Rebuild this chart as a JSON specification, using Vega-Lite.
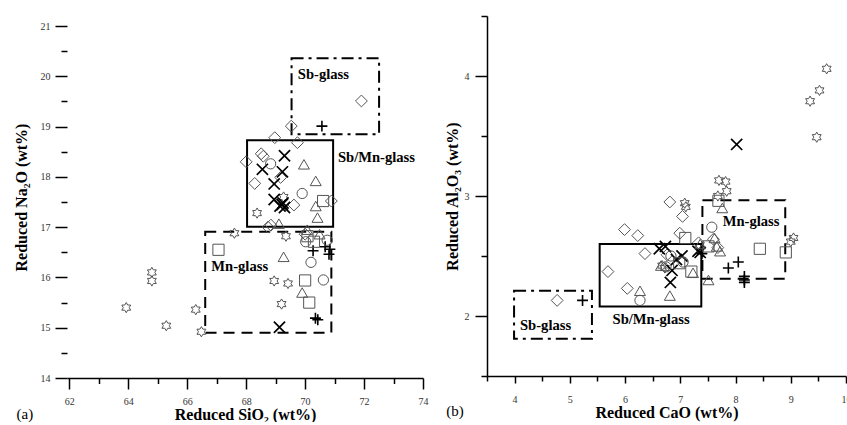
{
  "$schema": "https://vega.github.io/schema/vega-lite/v6.json",
  "padding": {"left": 13, "top": 15, "right": 0, "bottom": 0},
  "background": "white",
  "config": {
    "view": {"stroke": null},
    "concat": {"spacing": 16},
    "axis": {
      "grid": false,
      "domainColor": "black",
      "domainWidth": 1.5,
      "tickColor": "black",
      "tickWidth": 1.5,
      "labelFont": "Liberation Serif",
      "labelFontSize": 10,
      "labelColor": "#333",
      "labelFlush": false,
      "titleFont": "Liberation Serif",
      "titleFontSize": 16,
      "titleFontWeight": "bold",
      "titleColor": "black"
    }
  },
  "datasets": {
    "ptsA": [
      {"x": 71.91, "y": 19.51, "t": "d"}, {"x": 69.53, "y": 19.01, "t": "d"}, {"x": 68.97, "y": 18.78, "t": "d"},
      {"x": 69.74, "y": 18.68, "t": "d"}, {"x": 68.0, "y": 18.3, "t": "d"}, {"x": 68.51, "y": 18.46, "t": "d"},
      {"x": 68.58, "y": 18.41, "t": "d"}, {"x": 68.29, "y": 17.87, "t": "d"}, {"x": 69.17, "y": 17.99, "t": "d"},
      {"x": 69.62, "y": 17.44, "t": "d"}, {"x": 70.89, "y": 17.52, "t": "d"}, {"x": 68.74, "y": 17.0, "t": "d"},
      {"x": 68.84, "y": 17.04, "t": "d"}, {"x": 70.0, "y": 16.86, "t": "d"},
      {"x": 63.93, "y": 15.4, "t": "s"}, {"x": 64.8, "y": 16.1, "t": "s"}, {"x": 64.8, "y": 15.93, "t": "s"},
      {"x": 65.29, "y": 15.04, "t": "s"}, {"x": 66.29, "y": 15.36, "t": "s"}, {"x": 66.48, "y": 14.92, "t": "s"},
      {"x": 67.6, "y": 16.88, "t": "s"}, {"x": 68.37, "y": 17.28, "t": "s"}, {"x": 68.95, "y": 15.93, "t": "s"},
      {"x": 69.42, "y": 15.88, "t": "s"}, {"x": 69.2, "y": 15.47, "t": "s"}, {"x": 69.35, "y": 16.82, "t": "s"},
      {"x": 69.27, "y": 17.6, "t": "s"},
      {"x": 69.3, "y": 18.42, "t": "x"}, {"x": 68.55, "y": 18.15, "t": "x"}, {"x": 69.23, "y": 18.1, "t": "x"},
      {"x": 68.95, "y": 17.86, "t": "x"}, {"x": 68.95, "y": 17.55, "t": "x"}, {"x": 69.25, "y": 17.48, "t": "x"},
      {"x": 69.15, "y": 17.42, "t": "x"}, {"x": 69.3, "y": 17.39, "t": "x"}, {"x": 69.22, "y": 17.45, "t": "x"},
      {"x": 69.13, "y": 15.01, "t": "x"},
      {"x": 70.57, "y": 19.01, "t": "p"}, {"x": 70.27, "y": 16.53, "t": "p"}, {"x": 70.68, "y": 16.61, "t": "p"},
      {"x": 70.84, "y": 16.56, "t": "p"}, {"x": 70.81, "y": 16.46, "t": "p"}, {"x": 70.35, "y": 15.19, "t": "p"},
      {"x": 70.43, "y": 15.16, "t": "p"},
      {"x": 68.83, "y": 18.26, "t": "c"}, {"x": 69.9, "y": 17.67, "t": "c"}, {"x": 70.2, "y": 16.3, "t": "c"},
      {"x": 70.62, "y": 15.95, "t": "c"}, {"x": 70.02, "y": 16.71, "t": "c"}, {"x": 70.75, "y": 16.74, "t": "c"},
      {"x": 67.06, "y": 16.55, "t": "q"}, {"x": 70.0, "y": 15.94, "t": "q"}, {"x": 70.14, "y": 15.5, "t": "q"},
      {"x": 70.61, "y": 17.52, "t": "q"}, {"x": 70.3, "y": 16.71, "t": "q"}, {"x": 70.08, "y": 16.82, "t": "q"},
      {"x": 69.96, "y": 18.25, "t": "t"}, {"x": 70.36, "y": 17.92, "t": "t"}, {"x": 70.36, "y": 17.42, "t": "t"},
      {"x": 70.42, "y": 17.19, "t": "t"}, {"x": 69.11, "y": 17.07, "t": "t"}, {"x": 69.27, "y": 16.41, "t": "t"},
      {"x": 69.9, "y": 15.7, "t": "t"}, {"x": 70.07, "y": 16.95, "t": "t"}, {"x": 70.49, "y": 16.86, "t": "t"}
    ],
    "ptsB": [
      {"x": 9.65, "y": 4.06, "t": "s"}, {"x": 9.52, "y": 3.88, "t": "s"}, {"x": 9.35, "y": 3.79, "t": "s"},
      {"x": 9.47, "y": 3.49, "t": "s"}, {"x": 7.7, "y": 3.13, "t": "s"}, {"x": 7.82, "y": 3.12, "t": "s"},
      {"x": 7.84, "y": 3.04, "t": "s"}, {"x": 7.68, "y": 3.0, "t": "s"}, {"x": 7.08, "y": 2.94, "t": "s"},
      {"x": 7.1, "y": 2.91, "t": "s"}, {"x": 9.05, "y": 2.65, "t": "s"}, {"x": 9.0, "y": 2.62, "t": "s"},
      {"x": 6.67, "y": 2.42, "t": "s"}, {"x": 6.72, "y": 2.4, "t": "s"},
      {"x": 4.77, "y": 2.13, "t": "d"}, {"x": 5.69, "y": 2.37, "t": "d"}, {"x": 6.04, "y": 2.23, "t": "d"},
      {"x": 5.99, "y": 2.72, "t": "d"}, {"x": 6.23, "y": 2.67, "t": "d"}, {"x": 6.36, "y": 2.52, "t": "d"},
      {"x": 6.81, "y": 2.95, "t": "d"}, {"x": 7.04, "y": 2.83, "t": "d"}, {"x": 6.99, "y": 2.69, "t": "d"},
      {"x": 6.76, "y": 2.51, "t": "d"}, {"x": 7.33, "y": 2.61, "t": "d"}, {"x": 7.6, "y": 2.64, "t": "d"},
      {"x": 7.68, "y": 2.57, "t": "d"},
      {"x": 8.02, "y": 3.43, "t": "x"}, {"x": 6.73, "y": 2.58, "t": "x"}, {"x": 6.82, "y": 2.28, "t": "x"},
      {"x": 6.85, "y": 2.38, "t": "x"}, {"x": 6.93, "y": 2.47, "t": "x"}, {"x": 7.03, "y": 2.5, "t": "x"},
      {"x": 7.32, "y": 2.54, "t": "x"}, {"x": 7.36, "y": 2.53, "t": "x"}, {"x": 6.62, "y": 2.56, "t": "x"},
      {"x": 5.23, "y": 2.13, "t": "p"}, {"x": 7.87, "y": 2.4, "t": "p"}, {"x": 8.05, "y": 2.45, "t": "p"},
      {"x": 8.16, "y": 2.33, "t": "p"}, {"x": 8.16, "y": 2.3, "t": "p"}, {"x": 8.16, "y": 2.28, "t": "p"},
      {"x": 7.39, "y": 2.52, "t": "p"},
      {"x": 6.27, "y": 2.13, "t": "c"}, {"x": 7.57, "y": 2.74, "t": "c"}, {"x": 6.83, "y": 2.5, "t": "c"},
      {"x": 6.74, "y": 2.41, "t": "c"}, {"x": 7.05, "y": 2.45, "t": "c"},
      {"x": 7.69, "y": 2.96, "t": "q"}, {"x": 8.44, "y": 2.56, "t": "q"}, {"x": 8.91, "y": 2.53, "t": "q"},
      {"x": 7.51, "y": 2.58, "t": "q"}, {"x": 7.2, "y": 2.37, "t": "q"}, {"x": 7.09, "y": 2.65, "t": "q"},
      {"x": 6.98, "y": 2.44, "t": "q"},
      {"x": 6.27, "y": 2.21, "t": "t"}, {"x": 6.81, "y": 2.17, "t": "t"}, {"x": 7.76, "y": 2.9, "t": "t"},
      {"x": 7.51, "y": 2.3, "t": "t"}, {"x": 7.23, "y": 2.36, "t": "t"}, {"x": 7.72, "y": 2.54, "t": "t"},
      {"x": 7.66, "y": 2.58, "t": "t"}, {"x": 6.65, "y": 2.42, "t": "t"}, {"x": 7.62, "y": 2.65, "t": "t"},
      {"x": 7.36, "y": 2.6, "t": "t"}
    ],
    "boxesA": [
      {"x": 69.54, "x2": 72.51, "y": 18.85, "y2": 20.36, "k": "dashdot"},
      {"x": 68.03, "x2": 70.95, "y": 17.01, "y2": 18.73, "k": "solid"},
      {"x": 66.61, "x2": 70.89, "y": 14.9, "y2": 16.91, "k": "dashed"}
    ],
    "boxesB": [
      {"x": 3.99, "x2": 5.4, "y": 1.81, "y2": 2.21, "k": "dashdot"},
      {"x": 5.54, "x2": 7.38, "y": 2.08, "y2": 2.6, "k": "solid"},
      {"x": 7.4, "x2": 8.9, "y": 2.31, "y2": 2.965, "k": "dashed"}
    ],
    "labelsA": [
      {"x": 70.62, "y": 20.03, "label": "Sb-glass"},
      {"x": 72.42, "y": 18.37, "label": "Sb/Mn-glass"},
      {"x": 67.78, "y": 16.2, "label": "Mn-glass"}
    ],
    "labelsB": [
      {"x": 4.56, "y": 1.92, "label": "Sb-glass"},
      {"x": 6.47, "y": 1.97, "label": "Sb/Mn-glass"},
      {"x": 8.28, "y": 2.78, "label": "Mn-glass"}
    ],
    "tagA": [{"x": 60.49, "y": 13.29, "label": "(a)"}],
    "tagB": [{"x": 2.92, "y": 1.207, "label": "(b)"}]
  },
  "hconcat": [
    {
      "width": 356,
      "height": 362,
      "encoding": {
        "x": {
          "field": "x", "type": "quantitative",
          "scale": {"domain": [61.92, 74], "nice": false, "zero": false},
          "axis": {
            "title": "Reduced SiO₂ (wt%)",
            "values": [62, 63, 64, 65, 66, 67, 68, 69, 70, 71, 72, 73, 74],
            "labelExpr": "datum.value % 2 === 0 ? '' + datum.value : ''",
            "tickSize": {"condition": {"test": "datum.value % 2 === 0", "value": 11}, "value": 5.5},
            "labelPadding": 7,
            "titlePadding": 0
          }
        },
        "y": {
          "field": "y", "type": "quantitative",
          "scale": {"domain": [14, 21.2], "nice": false, "zero": false},
          "axis": {
            "title": "Reduced Na₂O (wt%)",
            "domain": false,
            "values": [14, 14.5, 15, 15.5, 16, 16.5, 17, 17.5, 18, 18.5, 19, 19.5, 20, 20.5, 21],
            "labelExpr": "datum.value % 1 === 0 ? '' + datum.value : ''",
            "tickSize": {"condition": {"test": "datum.value % 1 === 0", "value": 12}, "value": 6},
            "labelPadding": 5,
            "titlePadding": 11
          }
        }
      },
      "layer": [
        {
          "data": {"values": [{}]},
          "mark": {"type": "rule", "color": "black", "strokeWidth": 1.5},
          "encoding": {"x": {"datum": 61.92}, "y": {"datum": 14}, "y2": {"datum": 21}}
        },
        {
          "data": {"name": "boxesA"},
          "transform": [{"filter": "datum.k === 'solid'"}],
          "mark": {"type": "rect", "filled": false, "color": "black", "strokeWidth": 2},
          "encoding": {"x2": {"field": "x2"}, "y2": {"field": "y2"}}
        },
        {
          "data": {"name": "boxesA"},
          "transform": [{"filter": "datum.k === 'dashed'"}],
          "mark": {"type": "rect", "filled": false, "color": "black", "strokeWidth": 2, "strokeDash": [11, 7]},
          "encoding": {"x2": {"field": "x2"}, "y2": {"field": "y2"}}
        },
        {
          "data": {"name": "boxesA"},
          "transform": [{"filter": "datum.k === 'dashdot'"}],
          "mark": {"type": "rect", "filled": false, "color": "black", "strokeWidth": 2, "strokeDash": [12, 5, 3, 5]},
          "encoding": {"x2": {"field": "x2"}, "y2": {"field": "y2"}}
        },
        {
          "data": {"name": "ptsA"},
          "mark": {"type": "point", "filled": false, "opacity": 1},
          "encoding": {
            "shape": {
              "field": "t", "type": "nominal", "legend": null,
              "scale": {
                "domain": ["d", "s", "x", "p", "c", "q", "t"],
                "range": ["diamond", "M0,-1L0.289,-0.5L0.866,-0.5L0.577,0L0.866,0.5L0.289,0.5L0,1L-0.289,0.5L-0.866,0.5L-0.577,0L-0.866,-0.5L-0.289,-0.5Z", "M-1,-1L1,1M-1,1L1,-1", "M-1,0L1,0M0,-1L0,1", "circle", "square", "triangle-up"]
              }
            },
            "color": {
              "field": "t", "type": "nominal", "legend": null,
              "scale": {"domain": ["d", "s", "x", "p", "c", "q", "t"], "range": ["#555", "#555", "#000", "#000", "#555", "#555", "#555"]}
            },
            "size": {
              "field": "t", "type": "ordinal", "legend": null,
              "scale": {"type": "ordinal", "domain": ["d", "s", "x", "p", "c", "q", "t"], "range": [140, 105, 125, 120, 105, 125, 120]}
            },
            "strokeWidth": {
              "field": "t", "type": "ordinal", "legend": null,
              "scale": {"type": "ordinal", "domain": ["d", "s", "x", "p", "c", "q", "t"], "range": [1, 1, 1.7, 1.6, 1, 1, 1]}
            }
          }
        },
        {
          "data": {"name": "labelsA"},
          "mark": {"type": "text", "font": "Liberation Serif", "fontWeight": "bold", "fontSize": 14.6, "color": "black", "align": "center", "baseline": "middle"},
          "encoding": {"text": {"field": "label"}}
        },
        {
          "data": {"name": "tagA"},
          "mark": {"type": "text", "font": "Liberation Serif", "fontSize": 15, "color": "black", "align": "center", "baseline": "middle"},
          "encoding": {"text": {"field": "label"}}
        }
      ]
    },
    {
      "width": 359,
      "height": 360,
      "encoding": {
        "x": {
          "field": "x", "type": "quantitative",
          "scale": {"domain": [3.5, 10], "nice": false, "zero": false},
          "axis": {
            "title": "Reduced CaO (wt%)",
            "values": [3.5, 4, 4.5, 5, 5.5, 6, 6.5, 7, 7.5, 8, 8.5, 9, 9.5, 10],
            "labelExpr": "datum.value % 1 === 0 ? '' + datum.value : ''",
            "tickSize": {"condition": {"test": "datum.value % 1 === 0", "value": 7}, "value": 5},
            "labelPadding": 11,
            "titlePadding": 0
          }
        },
        "y": {
          "field": "y", "type": "quantitative",
          "scale": {"domain": [1.5, 4.5], "nice": false, "zero": false},
          "axis": {
            "title": "Reduced Al₂O₃ (wt%)",
            "values": [1.5, 2, 2.5, 3, 3.5, 4, 4.5],
            "labelExpr": "datum.value % 1 === 0 ? '' + datum.value : ''",
            "tickSize": {"condition": {"test": "datum.value % 1 === 0", "value": 12}, "value": 6},
            "labelPadding": 6,
            "titlePadding": 4
          }
        }
      },
      "layer": [
        {
          "data": {"name": "boxesB"},
          "transform": [{"filter": "datum.k === 'solid'"}],
          "mark": {"type": "rect", "filled": false, "color": "black", "strokeWidth": 2},
          "encoding": {"x2": {"field": "x2"}, "y2": {"field": "y2"}}
        },
        {
          "data": {"name": "boxesB"},
          "transform": [{"filter": "datum.k === 'dashed'"}],
          "mark": {"type": "rect", "filled": false, "color": "black", "strokeWidth": 2, "strokeDash": [11, 7]},
          "encoding": {"x2": {"field": "x2"}, "y2": {"field": "y2"}}
        },
        {
          "data": {"name": "boxesB"},
          "transform": [{"filter": "datum.k === 'dashdot'"}],
          "mark": {"type": "rect", "filled": false, "color": "black", "strokeWidth": 2, "strokeDash": [12, 5, 3, 5]},
          "encoding": {"x2": {"field": "x2"}, "y2": {"field": "y2"}}
        },
        {
          "data": {"name": "ptsB"},
          "mark": {"type": "point", "filled": false, "opacity": 1},
          "encoding": {
            "shape": {
              "field": "t", "type": "nominal", "legend": null,
              "scale": {
                "domain": ["d", "s", "x", "p", "c", "q", "t"],
                "range": ["diamond", "M0,-1L0.289,-0.5L0.866,-0.5L0.577,0L0.866,0.5L0.289,0.5L0,1L-0.289,0.5L-0.866,0.5L-0.577,0L-0.866,-0.5L-0.289,-0.5Z", "M-1,-1L1,1M-1,1L1,-1", "M-1,0L1,0M0,-1L0,1", "circle", "square", "triangle-up"]
              }
            },
            "color": {
              "field": "t", "type": "nominal", "legend": null,
              "scale": {"domain": ["d", "s", "x", "p", "c", "q", "t"], "range": ["#555", "#555", "#000", "#000", "#555", "#555", "#555"]}
            },
            "size": {
              "field": "t", "type": "ordinal", "legend": null,
              "scale": {"type": "ordinal", "domain": ["d", "s", "x", "p", "c", "q", "t"], "range": [140, 105, 125, 120, 105, 125, 120]}
            },
            "strokeWidth": {
              "field": "t", "type": "ordinal", "legend": null,
              "scale": {"type": "ordinal", "domain": ["d", "s", "x", "p", "c", "q", "t"], "range": [1, 1, 1.7, 1.6, 1, 1, 1]}
            }
          }
        },
        {
          "data": {"name": "labelsB"},
          "mark": {"type": "text", "font": "Liberation Serif", "fontWeight": "bold", "fontSize": 14.6, "color": "black", "align": "center", "baseline": "middle"},
          "encoding": {"text": {"field": "label"}}
        },
        {
          "data": {"name": "tagB"},
          "mark": {"type": "text", "font": "Liberation Serif", "fontSize": 15, "color": "black", "align": "center", "baseline": "middle"},
          "encoding": {"text": {"field": "label"}}
        }
      ]
    }
  ]
}
